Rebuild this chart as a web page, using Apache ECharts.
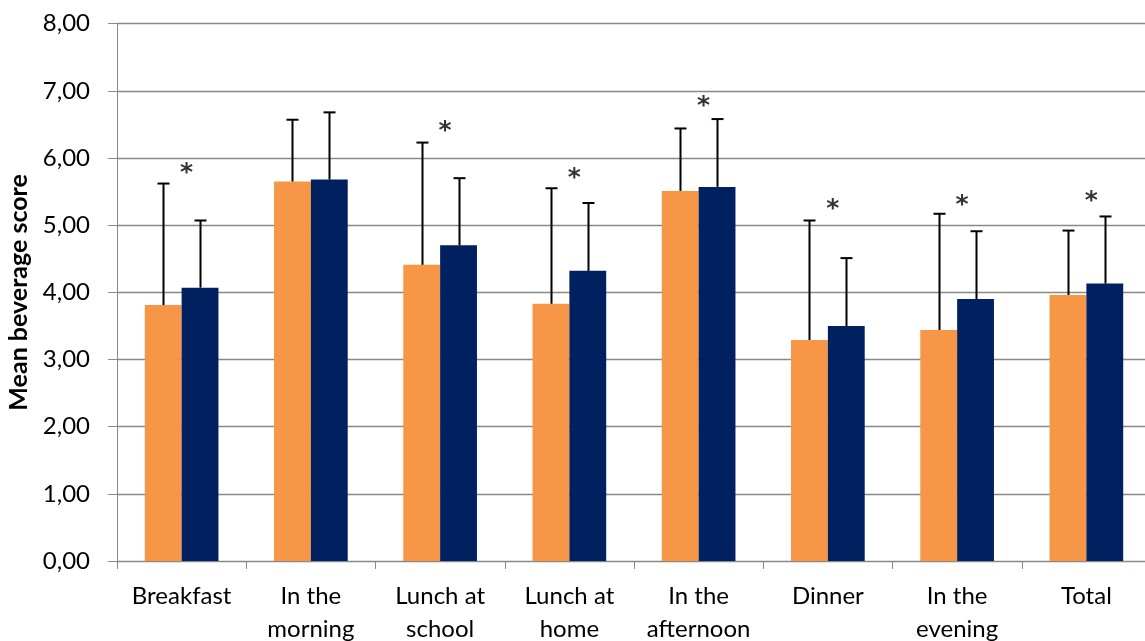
<!DOCTYPE html>
<html>
<head>
<meta charset="utf-8">
<script src="https://cdn.jsdelivr.net/npm/echarts@6/dist/echarts.min.js"></script>
<style>
html,body{margin:0;padding:0;background:#fff;}
#chart{width:1145px;height:641px;}
</style>
</head>
<body>
<div id="chart"></div>
<script>
var categories = ['Breakfast','In the\nmorning','Lunch at\nschool','Lunch at\nhome','In the\nafternoon','Dinner','In the\nevening','Total'];
var yTicks = [0,1,2,3,4,5,6,7,8];
var seriesA = [3.81,5.65,4.41,3.83,5.51,3.29,3.44,3.96];
var seriesB = [4.07,5.68,4.70,4.32,5.57,3.50,3.90,4.13];
var errTopA = [5.62,6.57,6.23,5.55,6.44,5.07,5.17,4.92];
var errTopB = [5.07,6.68,5.70,5.33,6.58,4.51,4.91,5.13];
var starY = [5.83,null,6.46,5.75,6.83,5.30,5.36,5.41];

var GAP = 0.43;
function errData(vals, tops){
  return vals.map(function(v,i){ return [i, tops[i], v]; });
}
function errRender(side){
  return function(params, api){
    var i = api.value(0);
    var top = api.coord([i, api.value(1)]);
    var base = api.coord([i, api.value(2)]);
    var cw = api.size([1,0])[0];
    var bw = cw*(1-GAP)/2;
    var x = Math.round(top[0] + side*bw/2) + 0.5;
    var style = {stroke:'#000', lineWidth:2};
    return {type:'group', children:[
      {type:'line', shape:{x1:x, y1:base[1], x2:x, y2:top[1]}, style:style},
      {type:'line', shape:{x1:x-6, y1:top[1], x2:x+6, y2:top[1]}, style:style}
    ]};
  };
}

var chart = echarts.init(document.getElementById('chart'));
chart.setOption({
  animation:false,
  grid:{left:117, right:-6, top:23.7, bottom:80, containLabel:false, outerBoundsMode:'none'},
  xAxis:{
    type:'category', data:categories,
    axisLine:{lineStyle:{color:'#898989', width:1}},
    axisTick:{show:true, length:8, alignWithLabel:false, lineStyle:{color:'#898989'}},
    axisLabel:{interval:0, color:'#000', fontFamily:'Lato', fontSize:24, lineHeight:33, margin:19}
  },
  yAxis:{
    type:'value', min:0, max:8, interval:1,
    name:'Mean beverage score', nameLocation:'middle', nameGap:82,
    nameTextStyle:{fontFamily:'Lato', fontWeight:'bold', fontSize:25, color:'#000'},
    axisLine:{show:true, lineStyle:{color:'#898989', width:1}},
    axisTick:{show:true, length:9, lineStyle:{color:'#898989'}},
    splitLine:{lineStyle:{color:'#898989', width:1.3}},
    axisLabel:{color:'#000', fontFamily:'Lato', fontSize:24, margin:27,
      formatter:function(v){ return v.toFixed(2).replace('.', ','); }}
  },
  series:[
    {type:'bar', name:'A', data:seriesA, barGap:'0%', barCategoryGap:(GAP*100)+'%',
      itemStyle:{color:'#F79646'}, z:2},
    {type:'bar', name:'B', data:seriesB, barGap:'0%', barCategoryGap:(GAP*100)+'%',
      itemStyle:{color:'#002060'}, z:2},
    {type:'custom', name:'errA', data:errData(seriesA, errTopA), renderItem:errRender(-1), z:3,
      encode:{x:0, y:[1,2]}},
    {type:'custom', name:'errB', data:errData(seriesB, errTopB), renderItem:errRender(1), z:3,
      encode:{x:0, y:[1,2]}},
    {type:'scatter', name:'sig', symbolSize:0, z:4,
      data:starY.map(function(v,i){ return v==null ? null : [i, v]; }),
      label:{show:true, position:'inside', formatter:'*', color:'#000',
        fontFamily:'DejaVu Sans', fontWeight:'bold', fontSize:25, offset:[5,4]}}
  ]
});
</script>
</body>
</html>
